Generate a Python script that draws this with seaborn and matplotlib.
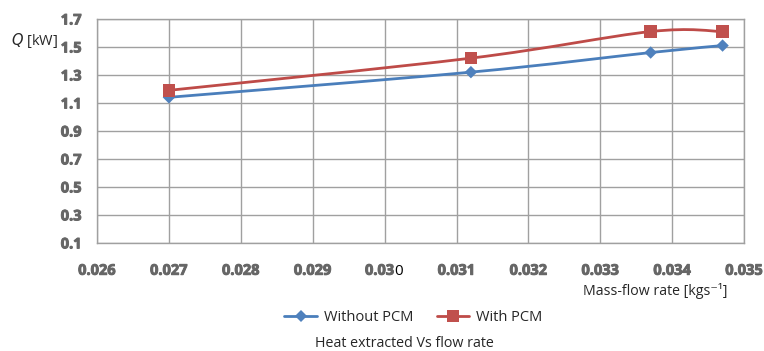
import matplotlib
matplotlib.use("Agg")
import matplotlib.pyplot as plt
import matplotlib.patheffects as pe
from matplotlib.path import Path
from matplotlib.patches import PathPatch
from matplotlib.lines import Line2D
import seaborn as sns
import pandas as pd

# data
flow_without = [0.027, 0.0312, 0.0337, 0.0347]
q_without = [1.14, 1.32, 1.46, 1.51]
flow_with = [0.027, 0.0312, 0.0337, 0.0347]
q_with = [1.19, 1.42, 1.61, 1.61]
series_names = ["Without PCM", "With PCM"]
x_ticks = [0.026, 0.027, 0.028, 0.029, 0.030, 0.031, 0.032, 0.033, 0.034, 0.035]
y_ticks = [0.1, 0.3, 0.5, 0.7, 0.9, 1.1, 1.3, 1.5, 1.7]

sns.set_style("white")
plt.rcParams["font.family"] = ["Open Sans", "DejaVu Sans"]

df = pd.concat([
    pd.DataFrame({"flow": flow_without, "Q": q_without, "series": series_names[0]}),
    pd.DataFrame({"flow": flow_with, "Q": q_with, "series": series_names[1]}),
])

line_colors = {"Without PCM": "#4a7ebb", "With PCM": "#be4b48"}
marker_colors = {"Without PCM": "#4f81bd", "With PCM": "#c0504d"}
markers = {"Without PCM": "D", "With PCM": "s"}
msize = {"Without PCM": 40, "With PCM": 80}

fig = plt.figure(figsize=(7.64, 3.51), dpi=100)
ax = fig.add_axes([0.127, 0.308, 0.847, 0.638])


def smooth_path(xs, ys):
    # Excel-style smoothed line: cubic Bezier segments (Catmull-Rom tangents)
    pts = list(zip(xs, ys))
    verts = [pts[0]]
    codes = [Path.MOVETO]
    n = len(pts)
    for i in range(n - 1):
        p0 = pts[i - 1] if i > 0 else pts[i]
        p1 = pts[i]
        p2 = pts[i + 1]
        p3 = pts[i + 2] if i + 2 < n else pts[i + 1]
        c1 = (p1[0] + (p2[0] - p0[0]) / 6, p1[1] + (p2[1] - p0[1]) / 6)
        c2 = (p2[0] - (p3[0] - p1[0]) / 6, p2[1] - (p3[1] - p1[1]) / 6)
        verts += [c1, c2, p2]
        codes += [Path.CURVE4] * 3
    return Path(verts, codes)


for name in series_names:
    sub = df[df["series"] == name]
    ax.add_patch(PathPatch(smooth_path(sub["flow"].tolist(), sub["Q"].tolist()),
                           facecolor="none", edgecolor=line_colors[name],
                           linewidth=2, zorder=3))

sns.scatterplot(data=df, x="flow", y="Q", hue="series", style="series",
                markers=markers, palette=marker_colors, size="series",
                sizes=msize, linewidth=0, ax=ax, legend=False, zorder=4)

tick_color = "#666666"
tick_fs = 10.5
thick = [pe.withStroke(linewidth=0.7, foreground=tick_color)]
ax.set_xlim(0.026, 0.035)
ax.set_ylim(0.1, 1.7)
ax.set_xticks(x_ticks)
ax.set_yticks(y_ticks)
labels = [f"{t:.3f}" for t in x_ticks]
labels[4] = ""
ax.set_xticklabels(labels)
ax.set_yticklabels([f"{t:.1f}" for t in y_ticks])
ax.tick_params(axis="both", length=0, labelsize=tick_fs, labelcolor=tick_color)
ax.tick_params(axis="x", pad=15)
ax.tick_params(axis="y", pad=11)
for lab in ax.get_xticklabels() + ax.get_yticklabels():
    lab.set_fontweight("bold")
    lab.set_path_effects(thick)
ax.grid(True, color="#a0a0a0", linewidth=1)
ax.set_axisbelow(True)
for s in ax.spines.values():
    s.set_color("#a0a0a0")
    s.set_linewidth(1)
ax.set_xlabel("")
ax.set_ylabel("")

# "0.030" tick label with a black trailing zero, as in the reference
t1 = ax.annotate("0.03", xy=(0.030, 0), xycoords=ax.get_xaxis_transform(),
                 xytext=(7.0, -15), textcoords="offset points",
                 ha="right", va="top", fontsize=tick_fs, fontweight="bold",
                 color=tick_color, path_effects=thick)
ax.annotate("0", xy=(1, 1), xycoords=t1, xytext=(-0.3, 0),
            textcoords="offset points", ha="left", va="top",
            fontsize=tick_fs + 0.5, color="black")

fig.text(0.014, 0.886, r"$\mathit{Q}$ [kW]", fontsize=10.5, ha="left",
         va="center")
fig.text(0.763, 0.171, "Mass-flow rate [kgs\u207b\u00b9]", fontsize=10.2,
         ha="left", va="center")

handles = [Line2D([], [], color=line_colors[n], marker=markers[n],
                  markerfacecolor=marker_colors[n], markeredgewidth=0,
                  markersize=6 if n == "Without PCM" else 8, linewidth=2)
           for n in series_names]
fig.legend(handles, series_names, loc="center", bbox_to_anchor=(0.541, 0.096),
           ncol=2, frameon=False, fontsize=10.5, handlelength=2.2,
           handletextpad=0.5, columnspacing=1.6)
fig.text(0.529, 0.022, "Heat extracted Vs flow rate", fontsize=10.3,
         ha="center", va="center")

fig.savefig("out.png", dpi=100)
